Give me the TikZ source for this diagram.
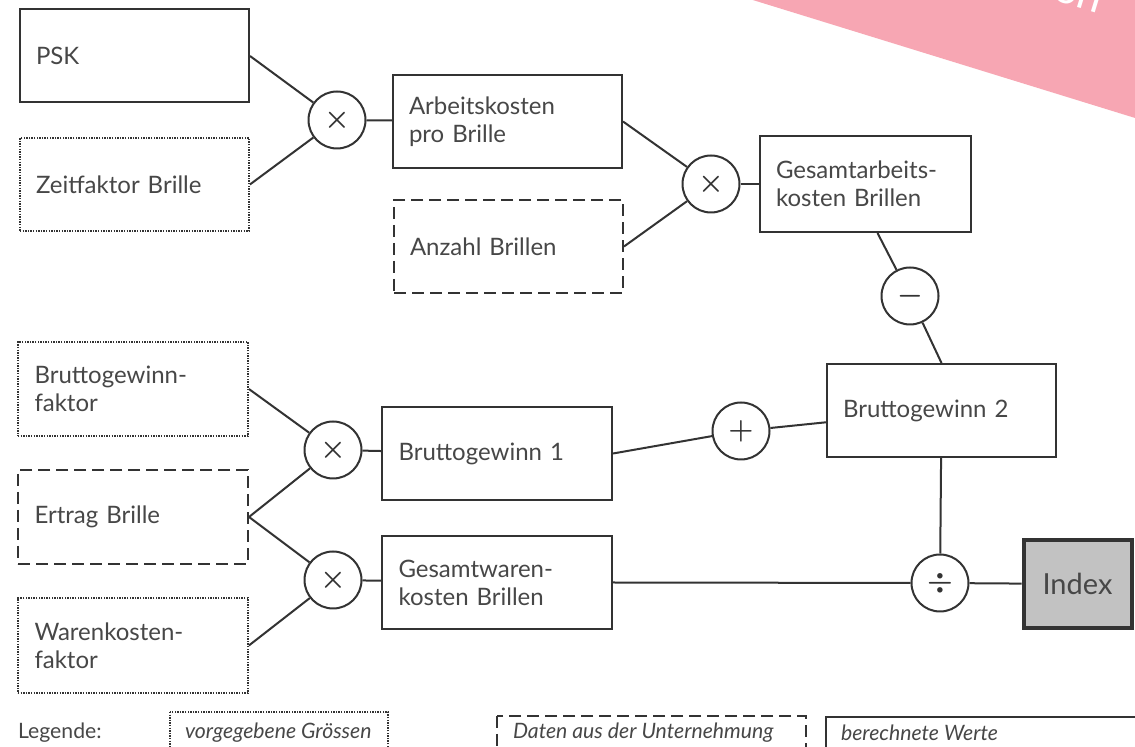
\documentclass[tikz,border=0pt]{standalone}
\usepackage{amsmath}
\usepackage{fontspec}
\setmainfont{Lato}
\usetikzlibrary{positioning}
\definecolor{inkgray}{HTML}{333333}
\definecolor{textgray}{HTML}{474747}
\definecolor{bannerpink}{HTML}{F7A6B3}
\definecolor{indexgray}{HTML}{C2C2C2}
\tikzset{
	dotline/.style={draw=inkgray, line width=0.9pt, dash pattern=on 0.7pt off 0.6pt},
	dashline/.style={draw=inkgray, line width=1pt, dash pattern=on 6pt off 3pt},
	solidline/.style={draw=inkgray, line width=1pt},
	box/.style={minimum width=114.5pt, minimum height=46.5pt, text width=98.5pt, inner xsep=8pt, align=left, text=textgray, font=\fontsize{12}{14}\selectfont},
	givenbox/.style={box, dotline},
	databox/.style={box, dashline},
	resultbox/.style={box, solidline},
	opcircle/.style={circle, solidline, minimum size=28.5pt, inner sep=0pt, text=inkgray, font=\Large},
	conn/.style={solidline},
	legendtext/.style={anchor=west, text=textgray, font=\fontsize{10.6}{12}\selectfont\itshape}
}
\newcommand{\opsym}[1]{$\boldsymbol{#1}$}
\begin{document}
\begin{tikzpicture}[x=0.5pt, y=-0.5pt]
	\clip (0,0) rectangle (1135,747);
	\fill[white] (0,0) rectangle (1135,747);
	\fill[bannerpink] (688,-20) -- (1150,122.6) -- (1150,-20) -- cycle;
	\node[rotate=-17, text=white, font=\fontsize{22}{22}\selectfont] (banner) at (1078,-4) {on};

	\node[resultbox] (psk) at (134.5,56) {PSK};
	\node[givenbox] (zeit) at (134.5,184.5) {Zeitfaktor Brille};
	\node[opcircle] (m1) at (337,120) {\opsym{\times}};
	\node[resultbox] (apb) at (507.5,121.5) {Arbeitskosten\\pro Brille};
	\node[databox] (anz) at (508.5,246.5) {Anzahl Brillen};
	\node[opcircle] (m2) at (711,184) {\opsym{\times}};
	\node[resultbox, minimum width=105.5pt, minimum height=48pt, text width=89.5pt] (gak) at (865.5,184) {Gesamtarbeits-\\kosten Brillen};
	\node[opcircle] (minus) at (910,296) {\opsym{-}};
	\node[resultbox] (bg2) at (941.5,410.5) {Bruttogewinn 2};

	\node[givenbox, minimum width=115pt, minimum height=47pt] (bgf) at (133,389) {Bruttogewinn-\\faktor};
	\node[databox, minimum width=115pt, minimum height=47pt] (ert) at (133,517) {Ertrag Brille};
	\node[givenbox, minimum width=115pt, minimum height=47.5pt] (wkf) at (133,645.5) {Warenkosten-\\faktor};
	\node[opcircle] (m3) at (333,450) {\opsym{\times}};
	\node[opcircle] (m4) at (333,580) {\opsym{\times}};
	\node[resultbox, minimum width=115pt] (bg1) at (497,453.5) {Bruttogewinn 1};
	\node[resultbox, minimum width=115pt] (gwk) at (497,582.5) {Gesamtwaren-\\kosten Brillen};
	\node[opcircle] (plus) at (741,431) {\opsym{+}};
	\node[opcircle] (div) at (940,583) {\opsym{\div}};
	\node[draw=inkgray, line width=2pt, fill=indexgray, minimum width=54pt, minimum height=44pt, text=textgray, font=\fontsize{14.5}{16}\selectfont] (idx) at (1077.5,584) {Index};

	\draw[conn] (psk.east) -- (m1);
	\draw[conn] (zeit.east) -- (m1);
	\draw[conn] (m1) -- (apb);
	\draw[conn] (apb.east) -- (m2);
	\draw[conn] (anz.east) -- (m2);
	\draw[conn] (m2) -- (gak);
	\draw[conn] ([xshift=6pt]gak.south) -- (minus);
	\draw[conn] (minus) -- (bg2.north);
	\draw[conn] (bgf.east) -- (m3);
	\draw[conn] (ert.east) -- (m3);
	\draw[conn] (ert.east) -- (m4);
	\draw[conn] (wkf.east) -- (m4);
	\draw[conn] (m3) -- (bg1);
	\draw[conn] (m4) -- (gwk);
	\draw[conn] (bg1.east) -- (plus);
	\draw[conn] (plus) -- (bg2);
	\draw[conn] (bg2) -- (div);
	\draw[conn] (gwk.east) -- (div);
	\draw[conn] (div) -- (idx);

	% Legende
	\node[anchor=west, text=textgray, font=\fontsize{10.6}{12}\selectfont] (leg) at (11,733) {Legende:};
	\draw[dotline] (170,712) rectangle (388,770);
	\node[legendtext] (leggiven) at (178,733) {vorgegebene Grössen};
	\draw[dashline] (497,716) rectangle (806,770);
	\node[legendtext] (legdata) at (506,733) {Daten aus der Unternehmung};
	\draw[solidline] (826,717) rectangle (1140,770);
	\node[legendtext] (legresult) at (834,733) {berechnete Werte};
\end{tikzpicture}
\end{document}
